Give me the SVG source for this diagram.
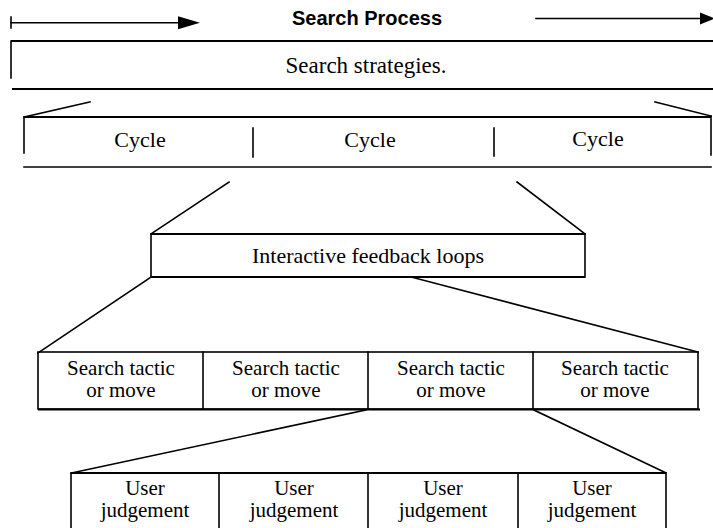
<svg xmlns="http://www.w3.org/2000/svg" width="713" height="528" viewBox="0 0 713 528">
<style>
.ln{stroke:#000;stroke-width:1.6;fill:none;stroke-linecap:square}
.hl{stroke:#000;stroke-width:2.2;fill:none}
.t{font-family:"Liberation Serif","Times New Roman",serif;font-size:21px;fill:#000;text-anchor:middle}
.h{font-family:"Liberation Sans",Arial,sans-serif;font-size:20px;font-weight:bold;fill:#000;text-anchor:middle}
</style>
<rect width="713" height="528" fill="#fff"/>
<g id="connectors">
<line class="ln" x1="11" y1="22.7" x2="182" y2="22.7"/>
<line class="ln" x1="11" y1="17" x2="11" y2="28"/>
<polygon points="178,16.2 200,22.7 178,29.2" fill="#000"/>
<line class="ln" x1="536" y1="18.5" x2="703" y2="18.5"/>
<polygon points="700,12.5 715,18.5 700,24.5" fill="#000"/>
<line class="ln" x1="24" y1="117" x2="90" y2="102"/>
<line class="ln" x1="711" y1="116" x2="655" y2="102"/>
<line class="ln" x1="229" y1="182" x2="151" y2="234"/>
<line class="ln" x1="517" y1="182" x2="585" y2="234"/>
<line class="ln" x1="151" y1="277" x2="38" y2="353"/>
<line class="ln" x1="411" y1="277" x2="698" y2="352"/>
<line class="ln" x1="366" y1="410" x2="71" y2="473"/>
<line class="ln" x1="534" y1="410" x2="666" y2="473"/>
</g>
<g id="title">
<text class="h" x="367" y="25">Search Process</text>
</g>
<g id="strategies">
<line class="hl" x1="11" y1="41" x2="713" y2="41"/>
<line class="ln" x1="11" y1="41" x2="11" y2="78"/>
<line class="hl" x1="12" y1="89" x2="713" y2="89"/>
<text class="t" x="366" y="73" style="font-size:23px">Search strategies.</text>
</g>
<g id="cycles">
<line class="hl" x1="24" y1="117" x2="711" y2="117"/>
<line class="ln" x1="24" y1="117" x2="24" y2="153"/>
<line class="ln" x1="711" y1="116" x2="711" y2="155"/>
<line class="ln" x1="253" y1="128" x2="253" y2="157"/>
<line class="ln" x1="494" y1="128" x2="494" y2="156"/>
<line class="ln" x1="24" y1="167" x2="711" y2="167"/>
<text class="t" x="140" y="147" style="font-size:22px">Cycle</text>
<text class="t" x="370" y="147" style="font-size:22px">Cycle</text>
<text class="t" x="598" y="146" style="font-size:22px">Cycle</text>
</g>
<g id="feedback">
<rect class="ln" x="151" y="234" width="434" height="43"/>
<line class="hl" x1="151" y1="234" x2="585" y2="234"/>
<line class="hl" x1="151" y1="277" x2="585" y2="277"/>
<text class="t" x="368" y="263" style="font-size:22px">Interactive feedback loops</text>
</g>
<g id="tactics">
<rect class="ln" x="38" y="352" width="660" height="57"/>
<line class="hl" x1="38" y1="409.5" x2="700" y2="409.5"/>
<line class="ln" x1="203" y1="352" x2="203" y2="409"/>
<line class="ln" x1="368" y1="352" x2="368" y2="409"/>
<line class="ln" x1="533" y1="352" x2="533" y2="409"/>
<text class="t" x="121" y="375">Search tactic</text>
<text class="t" x="121" y="397">or move</text>
<text class="t" x="286" y="375">Search tactic</text>
<text class="t" x="286" y="397">or move</text>
<text class="t" x="451" y="375">Search tactic</text>
<text class="t" x="451" y="397">or move</text>
<text class="t" x="615" y="375">Search tactic</text>
<text class="t" x="615" y="397">or move</text>
</g>
<g id="judgements">
<line class="hl" x1="71" y1="473" x2="666" y2="473"/>
<line class="ln" x1="71" y1="473" x2="71" y2="530"/>
<line class="ln" x1="219" y1="473" x2="219" y2="530"/>
<line class="ln" x1="368" y1="473" x2="368" y2="530"/>
<line class="ln" x1="518" y1="473" x2="518" y2="530"/>
<line class="ln" x1="666" y1="473" x2="666" y2="530"/>
<text class="t" x="145" y="495">User</text>
<text class="t" x="145" y="517">judgement</text>
<text class="t" x="294" y="495">User</text>
<text class="t" x="294" y="517">judgement</text>
<text class="t" x="443" y="495">User</text>
<text class="t" x="443" y="517">judgement</text>
<text class="t" x="592" y="495">User</text>
<text class="t" x="592" y="517">judgement</text>
</g>
</svg>
